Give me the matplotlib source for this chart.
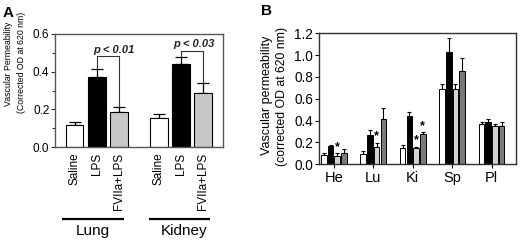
import matplotlib
matplotlib.use("Agg")
import matplotlib.pyplot as plt
import numpy as np

plt.rcParams['font.family'] = ['Liberation Sans', 'DejaVu Sans']

# ---------- Panel A data ----------
a_labels = ["Saline", "LPS", "FVIIa+LPS", "Saline", "LPS", "FVIIa+LPS"]
a_groups = ["Lung", "Kidney"]
a_values = [0.117, 0.373, 0.186, 0.154, 0.443, 0.288]
a_errors = [0.015, 0.043, 0.024, 0.021, 0.034, 0.053]
a_colors = ["white", "black", "#c8c8c8", "white", "black", "#c8c8c8"]
a_pvals = ["p < 0.01", "p < 0.03"]
a_yticks = [0.0, 0.2, 0.4, 0.6]

# ---------- Panel B data ----------
b_organs = ["He", "Lu", "Ki", "Sp", "Pl"]
b_series = {
    "s1": ([0.085, 0.092, 0.147, 0.687, 0.369], [0.021, 0.030, 0.030, 0.046, 0.019]),
    "s2": ([0.172, 0.269, 0.443, 1.026, 0.388], [0.007, 0.045, 0.033, 0.128, 0.024]),
    "s3": ([0.079, 0.159, 0.147, 0.690, 0.351], [0.021, 0.039, 0.015, 0.043, 0.021]),
    "s4": ([0.107, 0.412, 0.278, 0.852, 0.351], [0.033, 0.107, 0.015, 0.118, 0.034]),
}
b_colors = ["white", "black", "#d2d2d2", "#7a7a7a"]
b_stars = [(0, 2), (1, 2), (2, 2), (2, 3)]  # (organ index, series index)
b_yticks = [0.0, 0.2, 0.4, 0.6, 0.8, 1.0, 1.2]

W, H = 520, 241
fig = plt.figure(figsize=(W / 100, H / 100), dpi=100)

spine_col = "#303030"

# ---------------- Panel A ----------------
axA = fig.add_axes([55 / W, 1 - 147 / H, 168 / W, 113 / H])
xa = np.array([0, 1, 2, 3.8, 4.8, 5.8])
axA.bar(xa, a_values, width=0.8, color=a_colors, edgecolor="black", linewidth=0.8, zorder=2)
axA.errorbar(xa, a_values, yerr=[np.zeros(6), a_errors], fmt="none", ecolor="black",
             elinewidth=0.9, capsize=4, capthick=0.9, zorder=1)
axA.set_xlim(-0.88, 6.7)
axA.set_ylim(0, 0.6)
axA.set_yticks(a_yticks)
axA.set_yticklabels([f"{v:.1f}" for v in a_yticks], fontsize=8.5)
axA.set_yticks([0.1, 0.3, 0.5], minor=True)
axA.tick_params(axis="y", which="major", length=3, width=0.8, pad=1, colors=spine_col, labelcolor="black")
axA.tick_params(axis="y", which="minor", length=2, width=0.8, colors=spine_col)
axA.set_xticks(xa)
axA.set_xticklabels(a_labels, rotation=90, fontsize=8.5)
axA.tick_params(axis="x", length=0, pad=4)
for s in axA.spines.values():
    s.set_color("#555555")
    s.set_linewidth(1.0)

# significance brackets
def bracket(ax, x1, x2, y1, y2, ytop, txt, tx, ty):
    ax.plot([x1, x1, x2, x2], [y1, ytop, ytop, y2], color="#333333", lw=0.8, zorder=3)
    ax.text(tx, ty, txt, ha="center", va="center", fontsize=8, style="italic",
            fontweight="bold", color="#222222")

bracket(axA, xa[1], xa[2], a_values[1] + a_errors[1], a_values[2] + a_errors[2], 0.484,
        a_pvals[0], 1.8, 0.516)
bracket(axA, xa[4], xa[5], a_values[4] + a_errors[4], a_values[5] + a_errors[5], 0.512,
        a_pvals[1], 5.38, 0.545)

# group underlines and names
trans = axA.get_xaxis_transform()
for (x0, x1), name, xc in zip([(-0.56, 2.23), (3.36, 6.1)], a_groups, [0.83, 4.93]):
    axA.plot([x0, x1], [-0.637, -0.637], transform=trans, color="black", lw=1.6,
             clip_on=False, solid_capstyle="butt")
    axA.text(xc, -0.745, name, transform=trans, ha="center", va="center", fontsize=11)

fig.text(9 / W, 1 - 64 / H, "Vascular Permeability", rotation=90, ha="center", va="center", fontsize=6.3)
fig.text(21.5 / W, 1 - 62 / H, "(Corrected OD at 620 nm)", rotation=90, ha="center", va="center", fontsize=6.3)
fig.text(3 / W, 1 - 17 / H, "A", fontsize=11, fontweight="bold", va="baseline")

# ---------------- Panel B ----------------
axB = fig.add_axes([318.5 / W, 1 - 164.3 / H, (516 - 318.5) / W, (164.3 - 33.3) / H])
xb = np.arange(len(b_organs))
step, bw = 0.17, 0.14
for i, ((vals, errs), col) in enumerate(zip(b_series.values(), b_colors)):
    pos = xb + (i - 1.5) * step
    axB.bar(pos, vals, width=bw, color=col, edgecolor="black", linewidth=0.7, zorder=2)
    axB.errorbar(pos, vals, yerr=[np.zeros(len(vals)), errs], fmt="none", ecolor="black",
                 elinewidth=0.8, capsize=1.6, capthick=0.8, zorder=1)
series_list = list(b_series.values())
for oi, si in b_stars:
    v = series_list[si][0][oi] + series_list[si][1][oi]
    axB.text(oi + (si - 1.5) * step, v + 0.005, "*", ha="center", va="bottom",
             fontsize=9, fontweight="bold")
axB.set_xlim(-0.39, 4.62)
axB.set_ylim(0, 1.2)
axB.set_yticks(b_yticks)
axB.set_yticklabels([f"{v:.1f}" for v in b_yticks], fontsize=9.8)
axB.tick_params(axis="y", length=3, width=0.8, pad=1)
axB.set_xticks(xb)
axB.set_xticklabels(b_organs, fontsize=10.5)
axB.tick_params(axis="x", length=3, width=0.8, pad=2)
for s in axB.spines.values():
    s.set_color(spine_col)
    s.set_linewidth(1.0)

fig.text(267 / W, 1 - 95 / H, "Vascular permeability", rotation=90, ha="center", va="center", fontsize=9)
fig.text(282 / W, 1 - 96 / H, "(corrected OD at 620 nm)", rotation=90, ha="center", va="center", fontsize=8.8)
fig.text(261 / W, 1 - 15 / H, "B", fontsize=11, fontweight="bold", va="baseline")

fig.savefig("out.png", dpi=100)
